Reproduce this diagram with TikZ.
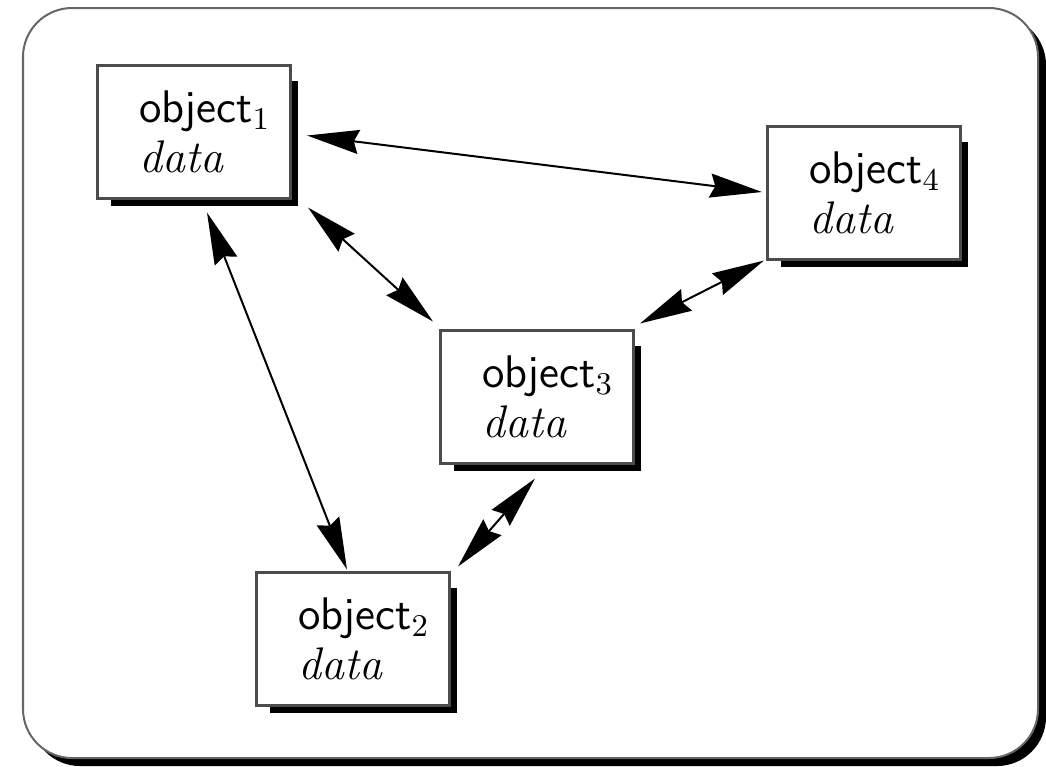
\documentclass[tikz,border=0pt]{standalone}
\usepackage{amssymb,amsmath}
\usepackage{tikz}
\usetikzlibrary{arrows.meta,calc}
\hfuzz=2cm

\tikzset{
  objbox/.style={draw=black!70, line width=0.03cm, fill=white, minimum height=1.32cm,
    text width=1.09cm, inner xsep=0.42cm, inner ysep=0pt, align=left,
    font=\fontsize{13}{14.2}\selectfont},
  boxshadow/.style={draw=black, line width=0.06cm},
  link/.style={<->, >={Stealth[length=0.52cm,width=0.24cm,inset=0.05cm]}, line width=0.02cm}
}

\begin{document}
\begin{tikzpicture}[x=0.01cm,y=-0.01cm]
      \useasboundingbox (0,0) rectangle (1046,766);
      \fill[black, rounded corners=0.49cm] (31,16) rectangle (1046,766);
      \draw[black!60, fill=white, line width=0.02cm, rounded corners=0.49cm] (23,8) rectangle (1038,758);
      \node[name=b1, objbox] at (194,132) {\mbox{\textsf{object}$_1$}\\\textit{data}};
      \node[name=b4, objbox] at (864,193) {\mbox{\textsf{object}$_4$}\\\textit{data}};
      \node[name=b3, objbox] at (537,397) {\mbox{\textsf{object}$_3$}\\\textit{data}};
      \node[name=b2, objbox] at (353,639) {\mbox{\textsf{object}$_2$}\\\textit{data}};
      \draw[boxshadow] ($(b1.north east)+(3,17)$) |- ($(b1.south west)+(15,3)$);
      \draw[boxshadow] ($(b4.north east)+(3,17)$) |- ($(b4.south west)+(15,3)$);
      \draw[boxshadow] ($(b3.north east)+(3,17)$) |- ($(b3.south west)+(15,3)$);
      \draw[boxshadow] ($(b2.north east)+(3,17)$) |- ($(b2.south west)+(15,3)$);
      \draw[link] ($(b1.east)+(15,3.5)$) -- ($(b4.west)+(-4,-1)$);
      \draw[link] ($(b1.south east)+(16,8)$) -- ($(b3.north west)+(-6,-8)$);
      \draw[link] ($(b1.south)+(13,13)$) -- ($(b2.north)+(-6,-2)$);
      \draw[link] ($(b3.north east)+(5,-6)$) -- ($(b4.south west)+(-2,0)$);
      \draw[link] ($(b3.south)+(-2,14)$) -- ($(b2.north east)+(7,-5)$);
   \end{tikzpicture}
\end{document}
